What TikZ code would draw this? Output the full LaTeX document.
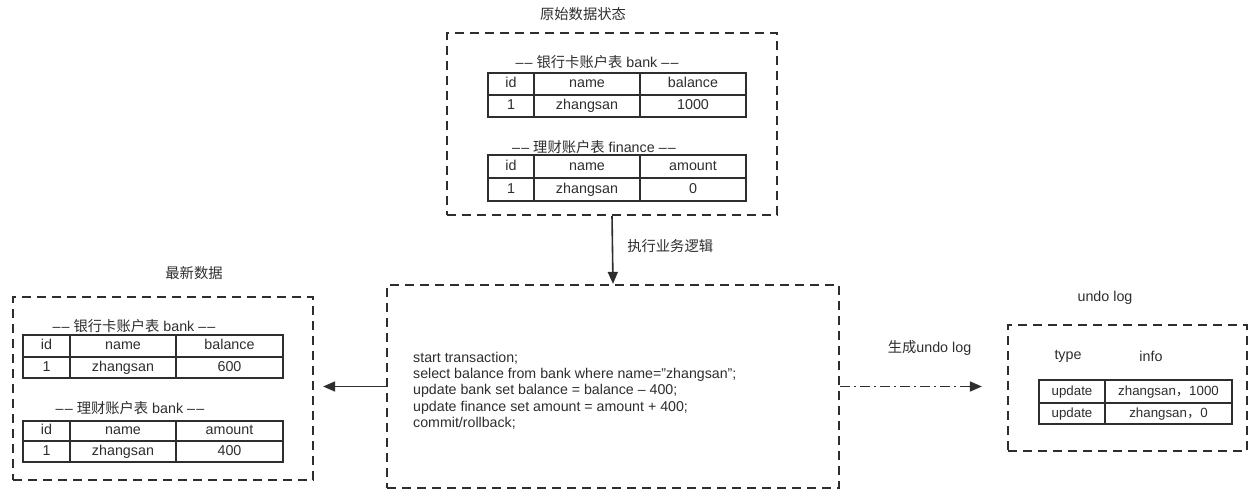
\documentclass[tikz,border=0pt]{standalone}
\usepackage{fontspec}
\setmainfont{Liberation Sans}
\newfontfamily\cjk{Noto Sans CJK SC}
\usetikzlibrary{arrows.meta}
\definecolor{ink}{HTML}{2E2E2E}
\newcommand\dd{–\kern1.2pt–}
\tikzset{
 cell/.style={draw=ink, line width=1.5pt, inner sep=0pt, text=ink, text height=10.5pt, text depth=3pt, font=\fontsize{14.3}{16}\selectfont},
 ucell/.style={cell, font=\fontsize{13.3}{15}\selectfont, text height=9.8pt, text depth=2.8pt},
 dbox/.style={draw=ink, line width=2.2pt, dash pattern=on 9pt off 6pt, inner sep=0pt},
 lbl/.style={text=ink, font=\fontsize{14.3}{16}\selectfont, inner sep=0pt},
 arr/.style={draw=ink, line width=1.6pt, -{Triangle[length=12pt,width=10pt]}},
}
\newcommand\tc[7][cell]{\node[#1, minimum width={(#5)-(#3)}, minimum height={(#6)-(#4)}] (#2) at ({((#3)+(#5))/2},{((#4)+(#6))/2}) {#7};}
\begin{document}
\begin{tikzpicture}[x=1pt,y=-1pt]
\useasboundingbox[fill=white] (0,0) rectangle (1257,497);
% boxes
\node[dbox, minimum width=330, minimum height=182] (orig) at (612,124) {};
\node[dbox, minimum width=452, minimum height=203] (mid) at (613,386.5) {};
\node[dbox, minimum width=300, minimum height=183] (latest) at (163,388.5) {};
\node[dbox, minimum width=239, minimum height=126] (undo) at (1127.5,388) {};
% titles
\node[lbl] (t1) at (583,14) {\cjk 原始数据状态};
\node[lbl] (t2) at (194,273) {\cjk 最新数据};
\node[lbl] (t3) at (1105,298) {undo log};
% top tables
\node[lbl] (l1) at (597,62) {\dd\ {\cjk 银行卡账户表} bank \dd};
\tc{a11}{488}{73}{534}{95}{id}
\tc{a12}{534}{73}{640}{95}{name}
\tc{a13}{640}{73}{746}{95}{balance}
\tc{a21}{488}{95}{534}{117}{1}
\tc{a22}{534}{95}{640}{117}{zhangsan}
\tc{a23}{640}{95}{746}{117}{1000}
\node[lbl] (l2) at (594,147) {\dd\ {\cjk 理财账户表} finance \dd};
\tc{b11}{488}{155}{534}{178}{id}
\tc{b12}{534}{155}{640}{178}{name}
\tc{b13}{640}{155}{746}{178}{amount}
\tc{b21}{488}{178}{534}{201}{1}
\tc{b22}{534}{178}{640}{201}{zhangsan}
\tc{b23}{640}{178}{746}{201}{0}
% left tables
\node[lbl] (l3) at (134,326) {\dd\ {\cjk 银行卡账户表} bank \dd};
\tc{c11}{23}{335}{70}{357}{id}
\tc{c12}{70}{335}{176}{357}{name}
\tc{c13}{176}{335}{283}{357}{balance}
\tc{c21}{23}{357}{70}{378}{1}
\tc{c22}{70}{357}{176}{378}{zhangsan}
\tc{c23}{176}{357}{283}{378}{600}
\node[lbl] (l4) at (130,408) {\dd\ {\cjk 理财账户表} bank \dd};
\tc{d11}{23}{421}{70}{441}{id}
\tc{d12}{70}{421}{176}{441}{name}
\tc{d13}{176}{421}{283}{441}{amount}
\tc{d21}{23}{441}{70}{462}{1}
\tc{d22}{70}{441}{176}{462}{zhangsan}
\tc{d23}{176}{441}{283}{462}{400}
% sql
\node[lbl, align=left, anchor=west, font=\fontsize{14.2}{16.3}\selectfont] (sql) at (413,390.5) {start transaction;\\
select balance from bank where name="zhangsan";\\
update bank set balance = balance -- 400;\\
update finance set amount = amount + 400;\\
commit/rollback;};
% undo log
\node[lbl] (ty) at (1068,356) {type};
\node[lbl] (in) at (1151,356) {info};
\tc[ucell]{u11}{1039}{380}{1105}{403}{update}
\tc[ucell]{u12}{1105}{380}{1232}{403}{zhangsan{\cjk ，}1000}
\tc[ucell]{u21}{1039}{403}{1105}{424}{update}
\tc[ucell]{u22}{1105}{403}{1232}{424}{zhangsan{\cjk ，}0}
% connectors
\draw[arr] (orig.south) -- node[lbl, right=14pt, yshift=4pt] (e1) {\cjk 执行业务逻辑} (mid.north);
\draw[arr, shorten >=9pt] (mid.west) -- (mid.west -| latest.east);
\draw[arr, dash pattern=on 10pt off 4pt on 2pt off 4pt, shorten >=25pt] (mid.east) -- node[lbl, above=30pt, xshift=6pt] (e2) {{\cjk 生成}undo log} (mid.east -| undo.west);
\end{tikzpicture}
\end{document}
